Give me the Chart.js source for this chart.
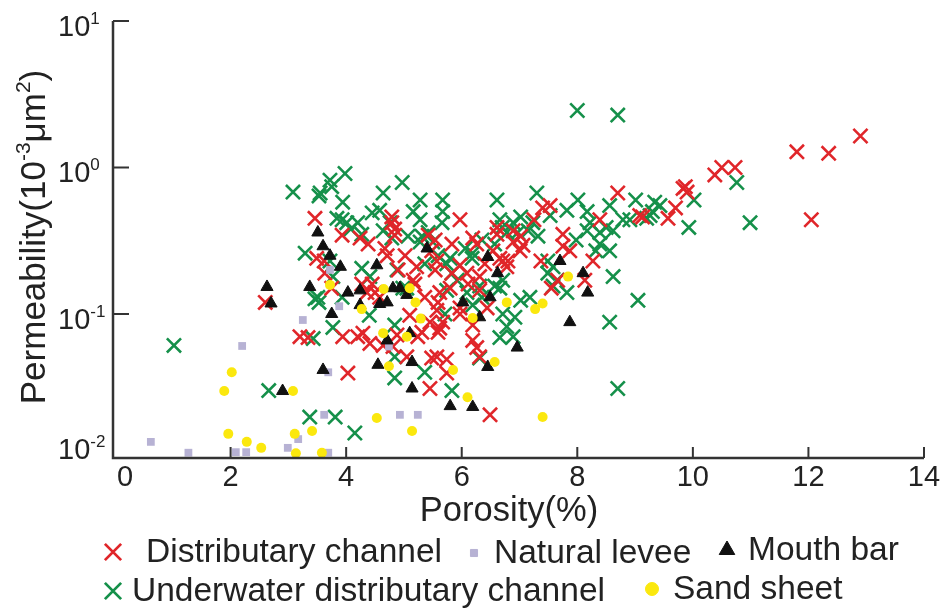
<!DOCTYPE html>
<html>
<head>
<meta charset="utf-8">
<script src="https://cdn.jsdelivr.net/npm/chart.js@4.4.1/dist/chart.umd.min.js"></script>
<style>
  html, body { margin: 0; padding: 0; background: #fff; }
</style>
</head>
<body>
<canvas id="c" width="941" height="611"></canvas>
<script>
// [porosity %, permeability 10^-3 um^2]
const distributaryChannel = [
  [12.9,1.64],[11.8,1.28],[12.35,1.25],[12.05,0.44],[10.38,0.89],[10.5,1.0],[10.73,1.0],
  [9.83,0.72],[9.9,0.68],[9.87,0.74],[9.7,0.53],[9.57,0.45],[9.13,0.46],[9.08,0.47],
  [8.7,0.67],[8.39,0.44],[7.53,0.55],[7.4,0.53],[7.25,0.44],[7.02,0.34],[7.06,0.295],
  [7.01,0.27],[6.89,0.37],[6.89,0.31],[6.8,0.23],[6.78,0.21],[6.66,0.24],[6.54,0.27],
  [6.61,0.39],[6.61,0.35],[6.26,0.3],[6.19,0.33],[5.97,0.44],[7.75,0.29],[7.87,0.27],
  [7.75,0.35],[8.27,0.23],[8.13,0.17],[7.66,0.17],[7.55,0.15],[7.37,0.23],[6.4,0.22],
  [6.71,0.23],[6.09,0.19],[6.31,0.18],[5.83,0.19],[5.97,0.215],[5.57,0.23],[5.48,0.27],
  [5.54,0.2],[5.83,0.3],[5.42,0.345],[5.54,0.32],[5.22,0.21],[5.16,0.17],[5.19,0.16],
  [5.02,0.25],[4.9,0.2],[4.84,0.345],[4.84,0.38],[4.79,0.42],[4.79,0.46],[4.71,0.25],
  [4.67,0.28],[4.38,0.3],[4.24,0.33],[3.93,0.345],[3.46,0.45],[3.49,0.24],[3.62,0.23],
  [3.63,0.19],[3.75,0.15],[4.27,0.16],[4.45,0.16],[4.5,0.14],[4.36,0.14],[4.58,0.13],
  [2.6,0.12],[5.57,0.106],[5.59,0.12],[5.36,0.13],[5.45,0.088],[5.67,0.088],[5.59,0.075],
  [5.62,0.08],[5.1,0.098],[5.97,0.11],[6.44,0.11],[5.97,0.1],[5.8,0.15],[6.11,0.16],
  [6.31,0.145],[5.62,0.14],[3.94,0.07],[4.2,0.07],[4.29,0.074],[4.41,0.063],[4.64,0.061],
  [4.81,0.06],[4.88,0.072],[5.24,0.07],[5.31,0.075],[5.05,0.051],[5.57,0.051],[5.48,0.05],
  [5.74,0.049],[5.74,0.0395],[4.03,0.0395],[5.45,0.031],[6.49,0.0205],[3.2,0.07],
  [3.34,0.069],[6.19,0.084],[6.19,0.066],[6.26,0.059],[6.31,0.051]
];
const naturalLevee = [
  [0.62,0.0134],[1.27,0.0113],[2.09,0.0114],[2.27,0.0114],[2.2,0.0605],[2.99,0.0122],
  [3.17,0.014],[3.25,0.091],[3.69,0.04],[3.62,0.0205],[3.69,0.0113],[3.88,0.113],
  [3.72,0.2],[4.93,0.0205],[5.24,0.0205],[4.74,0.06]
];
const mouthBar = [
  [2.63,0.153],[2.7,0.118],[2.9,0.0298],[3.37,0.153],[3.75,0.1],[3.6,0.0415],[4.55,0.045],
  [3.51,0.36],[3.6,0.29],[3.72,0.25],[3.9,0.21],[4.03,0.14],[4.24,0.145],[4.53,0.215],
  [4.58,0.117],[4.71,0.12],[4.24,0.115],[5.4,0.28],[6.45,0.245],[6.62,0.19],[4.81,0.15],
  [4.93,0.15],[5.05,0.135],[6.49,0.13],[6.02,0.12],[6.31,0.095],[5.14,0.031],[5.8,0.0235],
  [6.19,0.0232],[6.45,0.0435],[5.14,0.047],[5.1,0.074],[4.71,0.066],[7.7,0.23],[8.1,0.19],
  [8.18,0.14],[7.87,0.088],[6.96,0.059]
];
const underwaterChannel = [
  [1.02,0.061],[2.66,0.03],[3.37,0.0198],[3.81,0.0198],[4.15,0.0154],[3.29,0.26],
  [3.46,0.127],[3.43,0.068],[3.77,0.081],[3.53,0.12],[4.4,0.098],[3.08,0.68],[3.55,0.67],
  [3.53,0.64],[3.72,0.82],[3.75,0.74],[3.98,0.91],[3.94,0.58],[3.84,0.45],[3.93,0.44],
  [4.01,0.42],[4.2,0.42],[4.64,0.67],[4.97,0.79],[4.45,0.49],[4.58,0.51],[4.08,0.38],
  [4.27,0.35],[4.64,0.37],[4.76,0.42],[3.51,0.13],[3.93,0.13],[3.72,0.23],[4.27,0.205],
  [4.41,0.18],[3.77,0.18],[4.88,0.2],[5.05,0.15],[4.98,0.15],[4.79,0.33],[5.07,0.34],
  [5.31,0.34],[5.28,0.6],[5.16,0.5],[5.28,0.44],[5.67,0.6],[5.67,0.5],[5.66,0.42],
  [5.42,0.36],[5.28,0.31],[5.5,0.31],[5.59,0.25],[5.8,0.24],[5.74,0.22],[5.36,0.22],
  [6.06,0.28],[6.19,0.26],[6.18,0.24],[6.35,0.32],[6.57,0.3],[5.92,0.17],[5.83,0.19],
  [5.74,0.145],[6.09,0.14],[6.35,0.13],[6.31,0.155],[6.57,0.155],[6.71,0.17],[6.66,0.15],
  [6.61,0.6],[6.66,0.44],[6.7,0.39],[6.89,0.42],[6.78,0.36],[6.97,0.36],[7.23,0.42],
  [7.02,0.46],[7.15,0.37],[7.32,0.34],[7.3,0.67],[7.53,0.47],[7.82,0.51],[8.01,0.6],
  [8.17,0.5],[8.22,0.42],[8.17,0.37],[8.39,0.36],[8.56,0.55],[9.01,0.6],[8.79,0.44],
  [8.91,0.44],[8.5,0.39],[8.62,0.37],[8.56,0.27],[8.32,0.27],[8.39,0.3],[7.98,0.32],
  [7.49,0.23],[7.58,0.21],[7.49,0.19],[7.65,0.17],[7.58,0.155],[7.82,0.14],[7.18,0.13],
  [7.02,0.124],[8.62,0.18],[9.05,0.124],[8.56,0.088],[8.7,0.031],[6.71,0.1],[6.78,0.082],
  [6.66,0.069],[6.89,0.07],[6.92,0.095],[6.31,0.05],[6.19,0.115],[5.71,0.1],[4.84,0.084],
  [4.84,0.051],[4.84,0.0366],[5.36,0.04],[5.83,0.03],[8.7,2.28],[8.0,2.45],[10.76,0.79],
  [10.99,0.42],[10.02,0.6],[9.93,0.39],[9.34,0.58],[9.43,0.55],[9.26,0.47],[9.2,0.45],
  [9.3,0.5]
];
const sandSheet = [
  [2.02,0.04],[1.89,0.0298],[1.96,0.0152],[2.28,0.0134],[2.53,0.0122],[3.08,0.0298],
  [3.11,0.0152],[3.13,0.0112],[3.41,0.0159],[3.58,0.0113],[4.53,0.0195],[5.14,0.0159],
  [3.72,0.158],[4.65,0.148],[5.1,0.15],[5.2,0.12],[4.27,0.108],[5.29,0.093],[6.19,0.094],
  [6.78,0.12],[7.27,0.108],[7.4,0.118],[4.64,0.074],[5.05,0.07],[4.74,0.044],[5.85,0.0415],
  [6.57,0.047],[6.1,0.027],[7.4,0.0198],[7.84,0.18]
];

const xTicks = [0, 2, 4, 6, 8, 10, 12, 14];
const yTicks = [10, 1, 0.1, 0.01];
const yTickPowers = ['1', '0', '-1', '-2'];

const FONT = "'Liberation Sans', Arial, sans-serif";
const INK = '#222';

function toXY(arr) { return arr.map(p => ({ x: p[0], y: p[1] })); }

function drawRich(ctx, parts, x, y, size, align) {
  const sup = Math.round(size * 0.6);
  let w = 0;
  parts.forEach(([t, s]) => { ctx.font = (s ? sup : size) + 'px ' + FONT; w += ctx.measureText(t).width; });
  let cx = align === 'center' ? x - w / 2 : align === 'right' ? x - w : x;
  ctx.textAlign = 'left';
  ctx.textBaseline = 'alphabetic';
  parts.forEach(([t, s]) => {
    ctx.font = (s ? sup : size) + 'px ' + FONT;
    ctx.fillText(t, cx, s ? y - size * 0.42 : y);
    cx += ctx.measureText(t).width;
  });
}

function marker(ctx, ds, x, y, radius, lw) {
  ctx.save();
  ctx.strokeStyle = ds.pointBorderColor;
  ctx.fillStyle = ds.pointBackgroundColor;
  ctx.lineWidth = lw;
  Chart.helpers.drawPoint(ctx, { pointStyle: ds.pointStyle, radius: radius, rotation: 0, borderWidth: lw }, x, y);
  ctx.restore();
}

const axesPlugin = {
  id: 'axesPlugin',
  afterDraw(chart) {
    const { ctx, chartArea: a, scales: { x, y } } = chart;
    ctx.save();
    ctx.strokeStyle = '#333';
    ctx.lineWidth = 2.5;
    ctx.beginPath();
    ctx.moveTo(a.left, a.top);
    ctx.lineTo(a.left, a.bottom);
    ctx.lineTo(a.right, a.bottom);
    ctx.stroke();
    ctx.lineWidth = 2;
    ctx.beginPath();
    xTicks.forEach(v => {
      if (v === 0) return;
      const px = x.getPixelForValue(v);
      ctx.moveTo(px, a.bottom);
      ctx.lineTo(px, a.bottom - 11);
    });
    yTicks.forEach(v => {
      const py = y.getPixelForValue(v);
      if (py > a.bottom - 2) return;
      ctx.moveTo(a.left, py);
      ctx.lineTo(a.left + 16, py);
    });
    ctx.stroke();

    ctx.fillStyle = INK;
    // x tick labels
    ctx.font = '29px ' + FONT;
    ctx.textAlign = 'center';
    ctx.textBaseline = 'middle';
    xTicks.forEach(v => {
      const px = x.getPixelForValue(v) + (v === 0 ? 10 : 0);
      ctx.fillText(String(v), px, a.bottom + 20);
    });
    // y tick labels
    yTicks.forEach((v, i) => {
      let py = y.getPixelForValue(v);
      if (py > a.bottom - 2) py = a.bottom - 14;
      drawRich(ctx, [['10', false], [yTickPowers[i], true]], 58, py + 15, 29, 'left');
    });
    // axis titles
    ctx.fillStyle = INK;
    drawRich(ctx, [['Porosity(%)', false]], 509, 521, 34.5, 'center');
    ctx.save();
    ctx.translate(45, 237);
    ctx.rotate(-Math.PI / 2);
    drawRich(ctx, [['Permeability(10', false], ['-3', true], ['\u03bcm', false], ['2', true], [')', false]], 0, 0, 35, 'center');
    ctx.restore();

    // legend
    const ds = chart.data.datasets;
    const items = [
      { d: 0, mx: 113, tx: 146, y: 552, r: 11.5, lw: 2.8 },
      { d: 1, mx: 474, tx: 494, y: 553, r: 5, lw: 1 },
      { d: 2, mx: 727, tx: 748, y: 550, r: 9, lw: 1 },
      { d: 3, mx: 113, tx: 132, y: 591, r: 11.5, lw: 2.8 },
      { d: 4, mx: 652, tx: 673, y: 589, r: 6.5, lw: 1 }
    ];
    items.forEach(it => {
      marker(ctx, ds[it.d], it.mx, it.y, it.r, it.lw);
      ctx.fillStyle = INK;
      ctx.font = '33.5px ' + FONT;
      ctx.textAlign = 'left';
      ctx.textBaseline = 'middle';
      ctx.fillText(ds[it.d].label, it.tx, it.y + 1);
    });
    ctx.restore();
  }
};

new Chart(document.getElementById('c'), {
  type: 'scatter',
  data: {
    datasets: [
      { label: 'Distributary channel', data: toXY(distributaryChannel), pointStyle: 'crossRot', pointRadius: 10,
        pointBorderWidth: 2.6, pointBorderColor: '#e0262a', pointBackgroundColor: '#e0262a', order: 3 },
      { label: 'Natural levee', data: toXY(naturalLevee), pointStyle: 'rect', pointRadius: 5.5,
        pointBorderWidth: 0, pointBorderColor: '#b7b2d4', pointBackgroundColor: '#b7b2d4', order: 2 },
      { label: 'Mouth bar', data: toXY(mouthBar), pointStyle: 'triangle', pointRadius: 7,
        pointBorderWidth: 1, pointBorderColor: '#111', pointBackgroundColor: '#111', order: 1 },
      { label: 'Underwater distributary channel', data: toXY(underwaterChannel), pointStyle: 'crossRot', pointRadius: 10,
        pointBorderWidth: 2.6, pointBorderColor: '#15904a', pointBackgroundColor: '#15904a', order: 4 },
      { label: 'Sand sheet', data: toXY(sandSheet), pointStyle: 'circle', pointRadius: 5,
        pointBorderWidth: 0, pointBorderColor: '#fbe80e', pointBackgroundColor: '#fbe80e', order: 0 }
    ]
  },
  options: {
    responsive: false,
    animation: false,
    clip: false,
    layout: { padding: { left: 113, right: 17, top: 21, bottom: 153 } },
    plugins: { legend: { display: false }, tooltip: { enabled: false } },
    elements: { point: { hoverRadius: 10 } },
    scales: {
      x: { type: 'linear', min: -0.035, max: 14, display: false },
      y: { type: 'logarithmic', min: 0.0104, max: 10, display: false }
    }
  },
  plugins: [axesPlugin]
});
</script>
</body>
</html>
